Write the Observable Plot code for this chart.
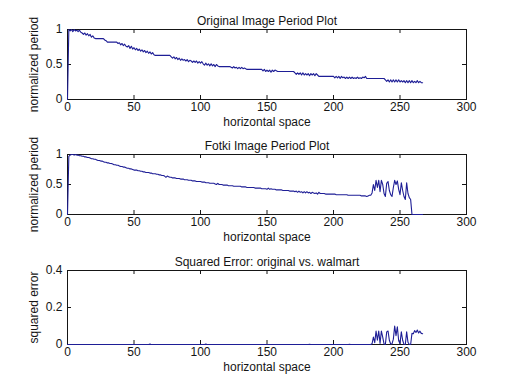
<!DOCTYPE html>
<html><head><meta charset="utf-8">
<script src="https://cdn.jsdelivr.net/npm/d3@7"></script>
<script src="https://cdn.jsdelivr.net/npm/@observablehq/plot@0.6"></script>
<style>
html,body{margin:0;padding:0;background:#fff;}
#chart{width:514px;height:386px;overflow:hidden;background:#fff;}
#chart svg{display:block;}
</style></head><body><div id="chart"></div>
<script>
// sample index = horizontal space (0..267)
const original = [
0,1.00,0.98,1.00,0.97,1.00,0.98,0.99,0.97,0.99,
0.96,0.95,0.93,0.95,0.92,0.94,0.91,0.93,0.89,0.91,
0.88,0.87,0.87,0.87,0.87,0.87,0.87,0.87,0.85,0.84,
0.82,0.82,0.82,0.82,0.82,0.82,0.82,0.82,0.80,0.81,
0.78,0.80,0.77,0.79,0.76,0.75,0.77,0.73,0.76,0.72,
0.74,0.71,0.73,0.70,0.72,0.69,0.71,0.68,0.70,0.67,
0.69,0.66,0.68,0.65,0.67,0.64,0.63,0.63,0.63,0.63,
0.63,0.63,0.63,0.63,0.63,0.63,0.63,0.63,0.61,0.59,
0.61,0.58,0.60,0.57,0.59,0.56,0.58,0.56,0.57,0.55,
0.57,0.54,0.56,0.55,0.53,0.55,0.53,0.55,0.52,0.54,
0.52,0.54,0.51,0.49,0.52,0.49,0.51,0.48,0.51,0.48,
0.50,0.47,0.50,0.48,0.47,0.47,0.47,0.47,0.47,0.47,
0.47,0.47,0.47,0.46,0.45,0.47,0.45,0.46,0.44,0.46,
0.44,0.46,0.44,0.45,0.44,0.43,0.43,0.43,0.43,0.43,
0.43,0.43,0.43,0.43,0.43,0.43,0.43,0.41,0.43,0.40,
0.42,0.40,0.42,0.39,0.42,0.40,0.42,0.41,0.40,0.40,
0.40,0.40,0.40,0.40,0.40,0.40,0.40,0.40,0.40,0.40,
0.40,0.38,0.36,0.38,0.36,0.38,0.35,0.38,0.35,0.37,
0.35,0.37,0.34,0.37,0.35,0.37,0.34,0.37,0.35,0.33,
0.33,0.33,0.33,0.33,0.33,0.33,0.33,0.33,0.33,0.33,
0.33,0.31,0.33,0.31,0.33,0.30,0.33,0.31,0.32,0.30,
0.32,0.30,0.32,0.30,0.32,0.30,0.31,0.30,0.32,0.30,
0.31,0.30,0.32,0.31,0.33,0.30,0.30,0.30,0.30,0.30,
0.30,0.30,0.30,0.30,0.30,0.30,0.30,0.30,0.30,0.28,
0.26,0.28,0.25,0.28,0.25,0.28,0.25,0.28,0.25,0.28,
0.25,0.27,0.25,0.27,0.24,0.27,0.24,0.27,0.24,0.27,
0.24,0.26,0.24,0.27,0.24,0.26,0.24,0.24
];
const fotki = [
0,0.97,0.99,1.00,1.00,0.99,1.00,0.99,0.99,0.98,
0.98,0.97,0.97,0.96,0.96,0.95,0.95,0.94,0.93,0.93,
0.92,0.92,0.91,0.90,0.90,0.89,0.89,0.88,0.87,0.87,
0.86,0.86,0.85,0.85,0.84,0.83,0.83,0.82,0.82,0.81,
0.80,0.80,0.79,0.79,0.78,0.77,0.77,0.76,0.76,0.75,
0.74,0.74,0.74,0.73,0.73,0.72,0.72,0.71,0.71,0.70,
0.70,0.70,0.69,0.69,0.68,0.68,0.68,0.67,0.67,0.66,
0.66,0.65,0.65,0.64,0.62,0.64,0.63,0.62,0.62,0.61,
0.61,0.61,0.60,0.60,0.60,0.59,0.59,0.59,0.58,0.58,
0.58,0.57,0.57,0.57,0.56,0.56,0.56,0.55,0.55,0.55,
0.55,0.54,0.54,0.54,0.53,0.53,0.53,0.52,0.52,0.52,
0.52,0.51,0.50,0.52,0.50,0.50,0.50,0.49,0.49,0.49,
0.49,0.48,0.48,0.48,0.48,0.47,0.47,0.47,0.47,0.47,
0.47,0.46,0.46,0.46,0.46,0.45,0.45,0.45,0.45,0.45,
0.45,0.44,0.44,0.44,0.44,0.44,0.43,0.43,0.43,0.43,
0.42,0.44,0.42,0.43,0.42,0.42,0.42,0.41,0.41,0.41,
0.41,0.41,0.40,0.40,0.40,0.40,0.40,0.39,0.39,0.39,
0.39,0.38,0.39,0.37,0.39,0.37,0.38,0.36,0.38,0.36,
0.38,0.36,0.37,0.35,0.37,0.36,0.35,0.36,0.34,0.37,
0.35,0.35,0.35,0.35,0.34,0.34,0.34,0.34,0.34,0.34,
0.34,0.34,0.33,0.33,0.33,0.33,0.33,0.33,0.33,0.33,
0.33,0.32,0.32,0.32,0.32,0.32,0.32,0.32,0.32,0.32,
0.32,0.31,0.31,0.31,0.31,0.30,0.31,0.32,0.32,0.36,
0.50,0.40,0.57,0.45,0.57,0.38,0.57,0.50,0.35,0.30,
0.52,0.55,0.40,0.33,0.30,0.45,0.57,0.50,0.56,0.42,
0.33,0.53,0.40,0.30,0.25,0.53,0.35,0.28,0.25,0,
0,0,0,0,0,0,0,0
];
const sqError = [
0,0,0,0,0,0,0,0,0,0,
0,0,0,0,0,0,0,0,0,0,
0,0,0,0,0,0,0,0,0,0,
0,0,0,0,0,0,0,0,0,0,
0,0,0,0,0,0,0,0,0,0,
0,0,0,0,0,0,0,0,0,0,
0,0,0.002,0,0,0,0,0,0,0,
0,0,0,0,0,0,0,0,0,0,
0,0,0,0,0,0,0,0,0,0,
0,0,0,0,0,0,0,0,0,0,
0,0,0,0,0.002,0,0,0,0,0,
0,0,0,0,0,0,0,0,0,0,
0,0,0,0,0,0,0,0,0,0,
0,0,0,0,0,0,0,0,0,0,
0,0,0,0,0,0,0,0,0,0,
0,0,0,0,0,0,0,0,0,0,
0,0,0,0,0,0,0,0,0,0,
0,0,0,0,0,0,0,0,0,0,
0,0,0.001,0,0,0,0,0,0,0,
0,0,0,0,0,0,0,0,0,0,
0,0,0,0,0,0,0,0,0,0,
0,0,0.001,0,0,0,0,0,0,0,
0,0,0,0,0,0,0,0,0,0.004,
0.040,0.010,0.073,0.023,0.073,0.006,0.073,0.040,0.003,0,
0.068,0.073,0.023,0.003,0.003,0.029,0.100,0.048,0.096,0.020,
0.006,0.068,0.023,0.001,0,0.068,0.012,0,0,0.060,
0.058,0.075,0.065,0.078,0.062,0.072,0.060,0.058
];
const xTicks = [0, 50, 100, 150, 200, 250, 300];
const xInnerTicks = [50, 100, 150, 200, 250];
const periodTicks = [0, 0.5, 1];
const periodInnerTicks = [0.5];
const errorTicks = [0, 0.2, 0.4];
const errorInnerTicks = [0.2];
const titles = ["Original Image Period Plot", "Fotki Image Period Plot", "Squared Error: original vs. walmart"];
const xLabel = "horizontal space";
const yLabels = ["normalized period", "normalized period", "squared error"];

const LINE = "#1e1e96";
const INK = "#151515";
const W = 514, ML = 67, MR = 48;
const innerW = W - ML - MR;

function panel({values, title, yLabel, yDomain, yTicks, yInner, height, marginTop, marginBottom, xLabelDy}) {
  const plotH = height - marginTop - marginBottom;
  return Plot.plot({
    width: W, height, marginTop, marginBottom, marginLeft: ML, marginRight: MR,
    x: {domain: [0, 300], axis: null},
    y: {domain: yDomain, axis: null},
    style: {fontFamily: "'Liberation Sans', Arial, sans-serif", fontSize: "12px", color: INK, background: "#fff", overflow: "visible"},
    marks: [
      Plot.frame({stroke: INK, strokeWidth: 1}),
      Plot.tickX(xInnerTicks, {x: d => d, insetTop: plotH - 4, stroke: INK}),
      Plot.tickX(xInnerTicks, {x: d => d, insetBottom: plotH - 4, stroke: INK}),
      Plot.tickY(yInner, {y: d => d, insetRight: innerW - 4, stroke: INK}),
      Plot.tickY(yInner, {y: d => d, insetLeft: innerW - 4, stroke: INK}),
      Plot.axisX(xTicks, {anchor: "bottom", tickSize: 0, tickPadding: 3, label: null, tickFormat: d => String(d), fontSize: 12}),
      Plot.axisY(yTicks, {anchor: "left", tickSize: 0, tickPadding: 5, label: null, tickFormat: d => String(d), fontSize: 12}),
      Plot.line(values, {x: (d, i) => i, y: d => d, stroke: LINE, strokeWidth: 1.1}),
      Plot.text([title], {text: d => d, frameAnchor: "top", dy: -13, fontSize: 12, fill: INK}),
      Plot.text([xLabel], {text: d => d, frameAnchor: "bottom", dy: xLabelDy, fontSize: 12, fill: INK}),
      Plot.text([yLabel], {text: d => d, frameAnchor: "left", textAnchor: "middle", rotate: -90, dx: -33, fontSize: 12, fill: INK})
    ]
  });
}

const chart = document.getElementById("chart");
chart.append(panel({values: original, title: titles[0], yLabel: yLabels[0], yDomain: [0, 1], yTicks: periodTicks, yInner: periodInnerTicks, height: 130, marginTop: 29, marginBottom: 31, xLabelDy: 26}));
chart.append(panel({values: fotki, title: titles[1], yLabel: yLabels[1], yDomain: [0, 1], yTicks: periodTicks, yInner: periodInnerTicks, height: 115, marginTop: 24, marginBottom: 31, xLabelDy: 26}));
chart.append(panel({values: sqError, title: titles[2], yLabel: yLabels[2], yDomain: [0, 0.4], yTicks: errorTicks, yInner: errorInnerTicks, height: 141, marginTop: 25, marginBottom: 42, xLabelDy: 26}));
</script></body></html>
